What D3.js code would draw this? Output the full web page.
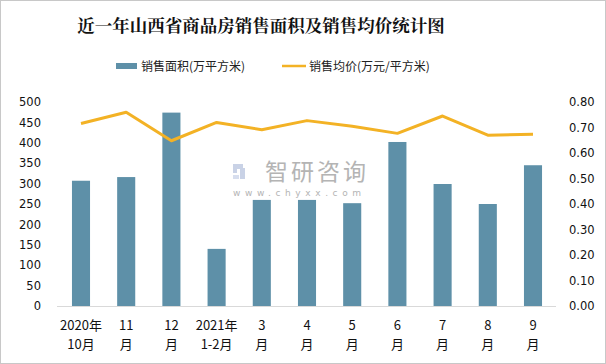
<!DOCTYPE html>
<html><head><meta charset="utf-8">
<script src="https://cdn.jsdelivr.net/npm/d3@7/dist/d3.min.js"></script>
<style>body{margin:0;background:#fff}svg{display:block}</style>
</head><body>
<svg id="c" width="606" height="364"></svg>
<script>
const categories = [["2020年","10月"],["11","月"],["12","月"],["2021年","1-2月"],["3","月"],["4","月"],["5","月"],["6","月"],["7","月"],["8","月"],["9","月"]];
const areaValues = [307, 316, 474, 140, 260, 260, 252, 402, 299, 250, 345];
const priceValues = [0.716, 0.76, 0.648, 0.72, 0.691, 0.727, 0.705, 0.677, 0.745, 0.67, 0.674];
const leftTicks = [0,50,100,150,200,250,300,350,400,450,500];
const rightTicks = [0,0.1,0.2,0.3,0.4,0.5,0.6,0.7,0.8];
const title = "近一年山西省商品房销售面积及销售均价统计图";
const legendArea = "销售面积(万平方米)";
const legendPrice = "销售均价(万元/平方米)";

const svg = d3.select("#c");
const barColor = "#5e90a8", lineColor = "#f3b225";
const cjk = "'Noto Sans CJK SC', sans-serif";
const num = "'DejaVu Sans', sans-serif";

svg.append("rect").attr("x",0.5).attr("y",0.5).attr("width",605).attr("height",363)
  .attr("fill","#fff").attr("stroke","#c8c8c8");

svg.append("text").attr("x",261).attr("y",32).attr("text-anchor","middle")
  .attr("font-family","'Noto Serif CJK SC','Noto Sans CJK SC',serif").attr("font-weight","bold")
  .attr("font-size",17.5).attr("fill","#111").text(title);

// legend
svg.append("rect").attr("x",116).attr("y",63).attr("width",21).attr("height",6).attr("fill",barColor);
svg.append("text").attr("x",141).attr("y",70.5).attr("font-family",cjk).attr("font-size",12).attr("fill","#222").text(legendArea);
svg.append("line").attr("x1",282).attr("x2",306).attr("y1",66).attr("y2",66).attr("stroke",lineColor).attr("stroke-width",2.5);
svg.append("text").attr("x",309).attr("y",70.5).attr("font-family",cjk).attr("font-size",12).attr("fill","#222").text(legendPrice);

const x = d3.scaleBand().domain(d3.range(categories.length)).range([58.4,555.6]).paddingInner(0.6).paddingOuter(0.3);
const yL = d3.scaleLinear().domain([0,500]).range([306,102]);
const yR = d3.scaleLinear().domain([0,0.8]).range([306,102]);

// watermark
const wm = svg.append("g");
wm.append("rect").attr("x",233).attr("y",164).attr("width",10).attr("height",5).attr("fill","#c9d2e6");
wm.append("rect").attr("x",233).attr("y",169).attr("width",4).attr("height",4).attr("fill","#c9d2e6");
wm.append("rect").attr("x",240).attr("y",168).attr("width",5).attr("height",11).attr("fill","#c9d2e6");
wm.append("rect").attr("x",233).attr("y",175).attr("width",6).attr("height",4).attr("fill","#d7deee");
wm.append("text").attr("x",265).attr("y",180).attr("font-family",cjk).attr("font-size",23).attr("fill","#b4b4b4").attr("letter-spacing",3).text("智研咨询");
wm.append("text").attr("x",233).attr("y",196).attr("font-family",num).attr("font-size",9).attr("fill","#b4b4b4").attr("letter-spacing",4.6).text("www.chyxx.com");

// bars
svg.append("g").selectAll("rect").data(areaValues).join("rect")
  .attr("x",(d,i)=>x(i)).attr("width",x.bandwidth())
  .attr("y",d=>yL(d)).attr("height",d=>yL(0)-yL(d)).attr("fill",barColor);

// baseline
svg.append("line").attr("x1",57).attr("x2",556).attr("y1",306.5).attr("y2",306.5).attr("stroke","#d9d9d9");

// line
const line = d3.line().x((d,i)=>x(i)+x.bandwidth()/2).y(d=>yR(d));
svg.append("path").datum(priceValues).attr("d",line).attr("fill","none")
  .attr("stroke",lineColor).attr("stroke-width",3).attr("stroke-linejoin","round");

// left axis
const axL = d3.axisLeft(yL).tickValues(leftTicks).tickSize(0).tickPadding(0);
const gL = svg.append("g").attr("transform","translate(41,0)").call(axL);
gL.select(".domain").remove();
gL.selectAll("text").attr("font-family",num).attr("font-size",11.5).attr("fill","#111");

const axR = d3.axisRight(yR).tickValues(rightTicks).tickFormat(d3.format(".2f")).tickSize(0).tickPadding(0);
const gR = svg.append("g").attr("transform","translate(569,0)").call(axR);
gR.select(".domain").remove();
gR.selectAll("text").attr("font-family",num).attr("font-size",11.5).attr("fill","#111");

// x labels
const axB = d3.axisBottom(x).tickSize(0).tickFormat("");
const gB = svg.append("g").attr("transform","translate(0,306)").call(axB);
gB.select(".domain").remove();
gB.selectAll(".tick").each(function(i){
  const t = d3.select(this).select("text").text(null).attr("y",0).attr("dy",null)
    .attr("font-family",cjk).attr("font-size",13).attr("fill","#111");
  t.append("tspan").attr("x",0).attr("y",24).text(categories[i][0]);
  t.append("tspan").attr("x",0).attr("y",43).text(categories[i][1]);
});
</script>
</body></html>
